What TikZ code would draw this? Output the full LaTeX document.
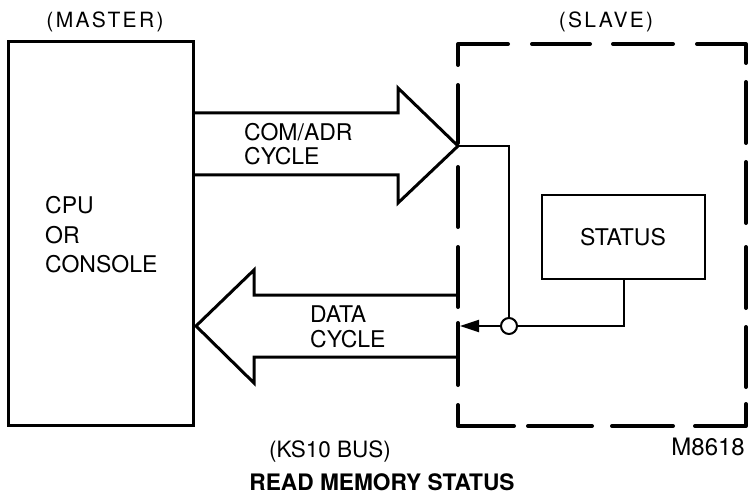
\documentclass[tikz,border=0pt]{standalone}
\usepackage{fontspec}
\setmainfont{TeX Gyre Heros}
\usetikzlibrary{arrows.meta}
\begin{document}
\begin{tikzpicture}[x=1pt,y=-1pt,
  lbl/.style={inner sep=0pt, font=\fontsize{23}{26}\selectfont},
  spaced/.style={inner sep=0pt, font=\fontsize{21}{24}\selectfont\addfontfeature{LetterSpace=11}},
  thickbox/.style={draw, line width=3pt, inner sep=0pt},
  bigarrow/.style={line width=3pt, line join=miter},
  sig/.style={line width=2pt},
  dashseg/.style={line width=4pt, line cap=round, line join=round}]
\useasboundingbox (0,0) rectangle (749,497);

% master box
\node[thickbox, minimum width=185pt, minimum height=383pt] (master) at (100.5,233.5) {};
% slave area (dashed)
\node[inner sep=0pt, minimum width=288pt, minimum height=382pt] (slave) at (602,235) {};
\draw[dashseg] (458,65) -- (458,44) -- (508,44);
\draw[dashseg] (697,44) -- (746,44) -- (746,63);
\draw[dashseg] (458,405) -- (458,426) -- (514,426);
\draw[dashseg] (695,426) -- (746,426) -- (746,404);
\foreach \a/\b in {532/590, 613/673} \draw[dashseg] (\a,44) -- (\b,44);
\foreach \a/\b in {528/592, 612/673} \draw[dashseg] (\a,426) -- (\b,426);
\foreach \a/\b in {85/143, 167/227, 247/307, 323/385} \draw[dashseg] (458,\a) -- (458,\b);
\foreach \a/\b in {82/143, 162/223, 247/308, 327/387} \draw[dashseg] (746,\a) -- (746,\b);

% status box
\node[draw, line width=2.5pt, minimum width=163pt, minimum height=84pt, inner sep=0pt] (status) at (623.5,237) {};
\node[lbl, anchor=base] (statustxt) at (623,245) {STATUS};

% COM/ADR arrow
\coordinate (catip) at (458,146);
\draw[bigarrow] (193,113) -- (398,113) -- (398,88) -- (catip) -- (398,203) -- (398,175) -- (193,175);
% DATA arrow
\coordinate (datip) at (196,326);
\draw[bigarrow] (458,295) -- (254,295) -- (254,270) -- (datip) -- (254,383) -- (254,357) -- (458,357);

% signal lines
\node[circle, draw, line width=2pt, minimum size=16pt, inner sep=0pt] (j) at (509,326) {};
\coordinate (sigend) at (460,326);
\draw[sig] (catip) -| (j.north);
\draw[sig] (status.south) |- (j.east);
\draw[sig, -{Triangle[length=19pt,width=12pt]}] (j.west) -- (sigend);

% labels
\node[spaced, anchor=base] (mastertxt) at (105,28) {(MASTER)};
\node[spaced, anchor=base] (slavetxt) at (606,28) {(SLAVE)};
\node[lbl, anchor=base west] (cpu) at (45,214) {CPU};
\node[lbl, anchor=base west] (or) at (45,243) {OR};
\node[lbl, anchor=base west] (console) at (45,272) {CONSOLE};
\node[lbl, anchor=base west] (comadr) at (244,141) {COM/ADR};
\node[lbl, anchor=base west] (cyc1) at (244,165) {CYCLE};
\node[lbl, anchor=base west] (data) at (310,322) {DATA};
\node[lbl, anchor=base west] (cyc2) at (310,347) {CYCLE};
\node[lbl, anchor=base, font=\fontsize{22.5}{26}\selectfont] (ks10) at (330,457) {(KS10 BUS)};
\node[lbl, anchor=base east, font=\fontsize{24}{26}\selectfont] (mnum) at (745,455) {M8618};
\node[lbl, anchor=base, font=\fontsize{22.7}{26}\selectfont\bfseries] (title) at (382,490) {READ MEMORY STATUS};
\end{tikzpicture}
\end{document}
